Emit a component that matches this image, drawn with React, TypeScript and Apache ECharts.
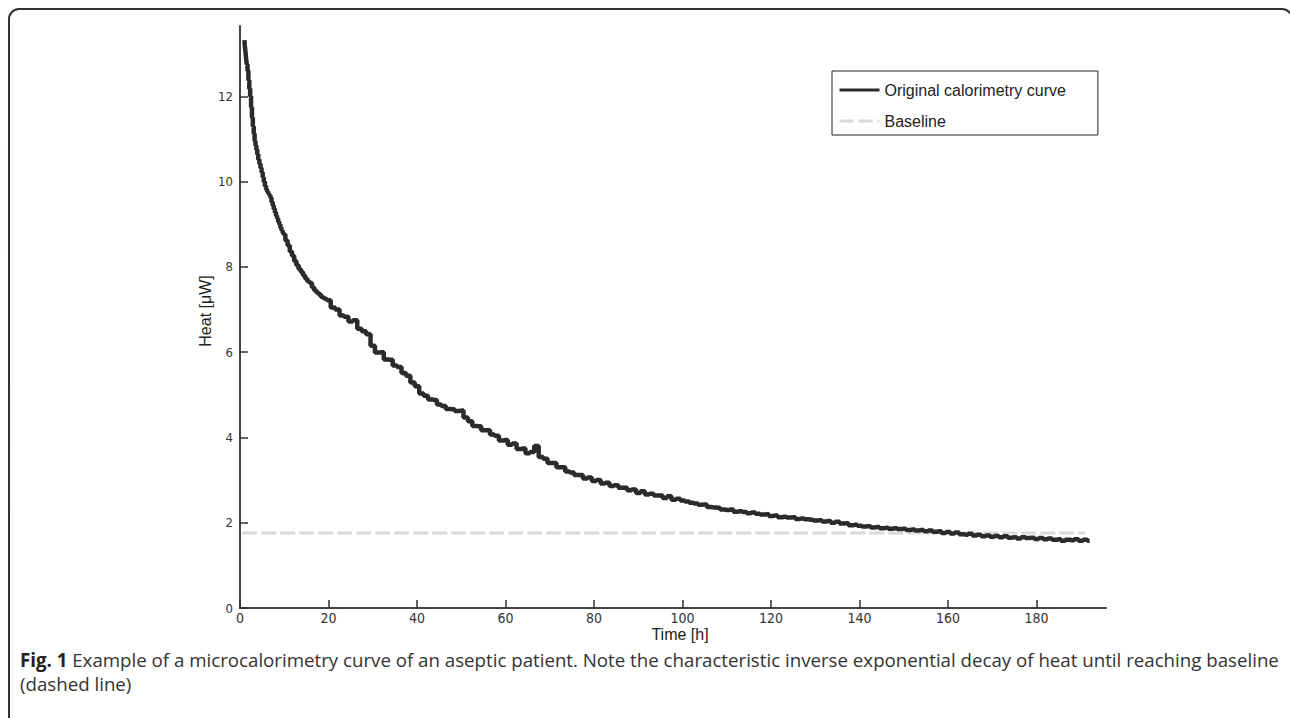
import React, { useEffect, useRef } from "react";
import * as echarts from "echarts";

// Time in hours (x) and heat in microwatts (y)
const timeH = [
  1.0, 1.15, 1.3, 1.45, 1.6, 1.8, 2.0, 2.2, 2.4, 2.6, 2.8, 3.0, 3.2, 3.4, 3.6, 3.8,
  4.0, 4.25, 4.5, 4.75, 5.0, 5.25, 5.5, 5.75, 6.0, 6.25, 6.5, 6.75, 7.0, 7.25, 7.5, 7.75,
  8.0, 8.25, 8.5, 8.75, 9.0, 9.25, 9.5, 9.75, 10, 10.5, 11, 11.5, 12, 12.5, 13, 13.5,
  14, 14.5, 15, 15.5, 16, 16.5, 17, 17.5, 18, 18.5, 19, 19.5,
  20, 21, 22, 23, 24, 25, 26, 27, 28, 29,
  30, 31, 32, 33, 34, 35, 36, 37, 38, 39, 40, 41, 42, 43, 44, 45, 46, 47, 48, 49,
  50, 51, 52, 53, 54, 55, 56, 57, 58, 59, 60, 61, 62, 63, 64, 65, 66, 67, 68, 69,
  70, 71, 72, 73, 74, 75, 76, 77, 78, 79, 80, 81, 82, 83, 84, 85, 86, 87, 88, 89,
  90, 91, 92, 93, 94, 95, 96, 97, 98, 99, 100, 101, 102, 103, 104, 105, 106, 107, 108, 109,
  110, 111, 112, 113, 114, 115, 116, 117, 118, 119, 120, 121, 122, 123, 124, 125, 126, 127, 128, 129,
  130, 131, 132, 133, 134, 135, 136, 137, 138, 139, 140, 141, 142, 143, 144, 145, 146, 147, 148, 149,
  150, 151, 152, 153, 154, 155, 156, 157, 158, 159, 160, 161, 162, 163, 164, 165, 166, 167, 168, 169,
  170, 171, 172, 173, 174, 175, 176, 177, 178, 179, 180, 181, 182, 183, 184, 185, 186, 187, 188, 189,
  190, 191, 192,
];

const heat = [
  13.32, 13.2, 13.05, 12.9, 12.75, 12.6, 12.38, 12.18, 12.0, 11.75, 11.5, 11.3, 11.12, 10.95, 10.85, 10.75,
  10.64, 10.52, 10.42, 10.32, 10.22, 10.1, 10.0, 9.9, 9.82, 9.76, 9.72, 9.68, 9.62, 9.52, 9.44, 9.36,
  9.28, 9.2, 9.14, 9.06, 9.0, 8.92, 8.86, 8.8, 8.76, 8.62, 8.5, 8.36, 8.26, 8.14, 8.04, 7.95,
  7.88, 7.8, 7.72, 7.66, 7.62, 7.52, 7.45, 7.4, 7.36, 7.3, 7.27, 7.24,
  7.22, 7.05, 7.0, 6.86, 6.83, 6.72, 6.75, 6.55, 6.49, 6.42,
  6.15, 5.99, 6.0, 5.83, 5.82, 5.69, 5.65, 5.51, 5.45, 5.29, 5.2, 5.03, 4.98, 4.89, 4.88, 4.77, 4.74, 4.67, 4.66, 4.62,
  4.63, 4.47, 4.38, 4.27, 4.26, 4.17, 4.17, 4.07, 4.04, 3.93, 3.94, 3.83, 3.86, 3.73, 3.74, 3.63, 3.66, 3.8, 3.54, 3.5,
  3.4, 3.4, 3.3, 3.3, 3.2, 3.18, 3.12, 3.12, 3.04, 3.06, 2.98, 3.0, 2.92, 2.94, 2.86, 2.88, 2.82, 2.82, 2.76, 2.78,
  2.7, 2.74, 2.66, 2.68, 2.64, 2.64, 2.58, 2.62, 2.54, 2.56, 2.52, 2.5, 2.47, 2.45, 2.42, 2.43, 2.37, 2.36, 2.35, 2.31,
  2.3, 2.31, 2.26, 2.27, 2.25, 2.22, 2.24, 2.21, 2.19, 2.2, 2.16, 2.17, 2.13, 2.14, 2.12, 2.13, 2.09, 2.1, 2.08, 2.07,
  2.05, 2.06, 2.03, 2.04, 2.0, 2.02, 1.98, 1.99, 1.94, 1.95, 1.93, 1.91, 1.92, 1.89, 1.9, 1.87, 1.88, 1.86, 1.87, 1.85,
  1.86, 1.83, 1.84, 1.82, 1.83, 1.8, 1.82, 1.79, 1.8, 1.76, 1.78, 1.75, 1.77, 1.73, 1.72, 1.74, 1.7, 1.72, 1.68, 1.7,
  1.67, 1.69, 1.66, 1.68, 1.65, 1.66, 1.63, 1.66, 1.64, 1.65, 1.62, 1.64, 1.61, 1.63, 1.6, 1.61, 1.58, 1.6, 1.59, 1.61,
  1.58, 1.6, 1.58,
];

const baselineTime = [0.5, 191];
const baselineHeat = [1.76, 1.76];

const xTicks = [0, 20, 40, 60, 80, 100, 120, 140, 160, 180];
const yTicks = [0, 2, 4, 6, 8, 10, 12];

const curveName = "Original calorimetry curve";
const baselineName = "Baseline";
const xName = "Time [h]";
const yName = "Heat [\u03BCW]";
const captionBold = "Fig. 1";
const captionLine1 =
  " Example of a microcalorimetry curve of an aseptic patient. Note the characteristic inverse exponential decay of heat until reaching baseline";
const captionLine2 = "(dashed line)";

const narrow = "'Liberation Sans Narrow', 'DejaVu Sans Condensed', 'Liberation Sans', sans-serif";
const sans = "'Liberation Sans', Arial, sans-serif";
const capFont = "'Open Sans', sans-serif";

export default function App() {
  const ref = useRef<HTMLDivElement>(null);

  useEffect(() => {
    document.body.style.margin = "0";
    const chart = echarts.init(ref.current as HTMLDivElement, null, { renderer: "svg" });
    chart.setOption({
      animation: false,
      backgroundColor: "#ffffff",
      grid: { left: 240, top: 26, right: 184, bottom: 110, outerBoundsMode: "none" },
      legend: {
        orient: "vertical",
        left: 832,
        top: 71,
        padding: [11, 32, 6, 6],
        itemWidth: 40,
        itemHeight: 16,
        itemGap: 15,
        borderColor: "#222",
        borderWidth: 1,
        itemStyle: { opacity: 0 },
        textStyle: { fontSize: 16, color: "#222", fontFamily: sans },
        data: [
          { name: curveName, lineStyle: { width: 3 } },
          { name: baselineName, lineStyle: { width: 3, type: [14, 5] } },
        ],
      },
      xAxis: {
        type: "value",
        min: 0,
        max: 195.7,
        axisLine: { lineStyle: { color: "#444", width: 2 } },
        axisTick: { inside: true, length: 8, customValues: xTicks, lineStyle: { color: "#333", width: 1.5 } },
        axisLabel: {
          customValues: xTicks,
          margin: 3,
          fontSize: 14,
          color: "#333",
          fontFamily: narrow,
        },
        splitLine: { show: false },
      },
      yAxis: {
        type: "value",
        min: 0,
        max: 13.65,
        axisLine: { show: true, lineStyle: { color: "#444", width: 2 } },
        axisTick: { show: true, inside: true, length: 8, customValues: yTicks, lineStyle: { color: "#333", width: 1.5 } },
        axisLabel: {
          customValues: yTicks,
          margin: 7,
          fontSize: 13,
          color: "#333",
          fontFamily: narrow,
        },
        splitLine: { show: false },
      },
      series: [
        {
          name: baselineName,
          type: "line",
          symbol: "none",
          z: 2,
          data: baselineTime.map((t, i) => [t, baselineHeat[i]]),
          lineStyle: { color: "#d9d9d9", width: 3, type: [15, 4] },
          itemStyle: { color: "#d9d9d9" },
        },
        {
          name: curveName,
          type: "line",
          symbol: "none",
          step: "middle",
          z: 3,
          data: timeH.map((t, i) => [t, heat[i]]),
          lineStyle: { color: "#2b2b2b", width: 4.5 },
          itemStyle: { color: "#2b2b2b" },
        },
      ],
      graphic: [
        {
          type: "rect",
          silent: true,
          shape: { x: 9, y: 9, width: 1283, height: 720, r: 10 },
          style: { fill: "none", stroke: "#333", lineWidth: 2 },
        },
        {
          type: "text",
          x: 680,
          y: 634,
          style: { text: xName, fontSize: 16, fontFamily: sans, fill: "#222", align: "center", verticalAlign: "middle" },
        },
        {
          type: "text",
          x: 205,
          y: 311,
          rotation: Math.PI / 2,
          style: { text: yName, fontSize: 16, fontFamily: sans, fill: "#222", align: "center", verticalAlign: "middle" },
        },
        {
          type: "text",
          x: 20,
          y: 659,
          style: {
            text: "{b|" + captionBold + "}" + captionLine1,
            rich: { b: { fontWeight: "bold", fontSize: 18.7, fontFamily: capFont, fill: "#222" } },
            fontSize: 18.7,
            fontFamily: capFont,
            fill: "#333",
            verticalAlign: "middle",
          },
        },
        {
          type: "text",
          x: 20,
          y: 683,
          style: {
            text: captionLine2,
            fontSize: 18.7,
            fontFamily: capFont,
            fill: "#333",
            verticalAlign: "middle",
          },
        },
      ],
    });
    return () => chart.dispose();
  }, []);

  return <div ref={ref} style={{ width: 1290, height: 718 }} />;
}
